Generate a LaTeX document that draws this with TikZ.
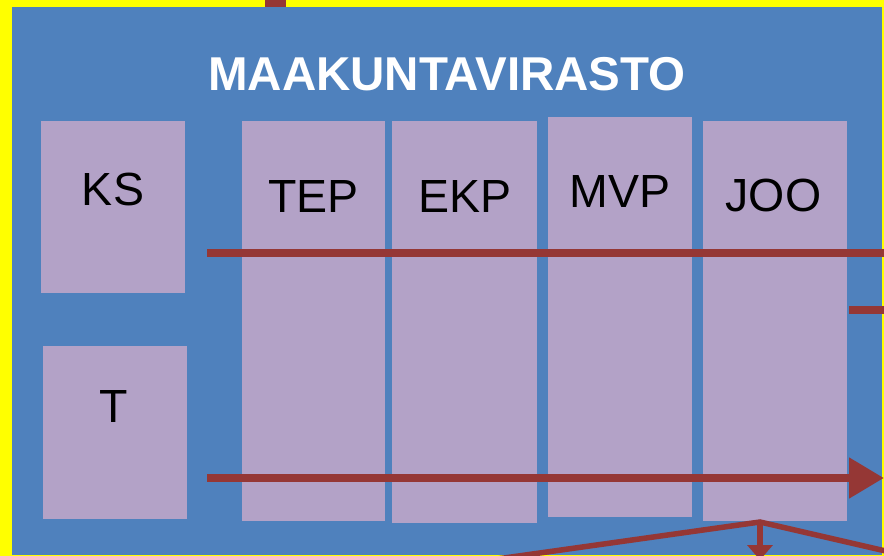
\documentclass[tikz,border=0pt]{standalone}
\usepackage{fontspec}
\setmainfont{Liberation Sans}
\usetikzlibrary{arrows.meta}
\definecolor{bgyellow}{HTML}{FFFF00}
\definecolor{panelblue}{HTML}{4F81BD}
\definecolor{boxlilac}{HTML}{B3A2C7}
\definecolor{darkred}{HTML}{953735}
\tikzset{
  unitbox/.style={fill=boxlilac, draw=none, anchor=north west, inner sep=0pt},
  boxlabel/.style={anchor=base, inner sep=0pt, font=\fontsize{46.5}{50}\selectfont, text=black},
  flowline/.style={draw=darkred, line width=8pt},
  thinflow/.style={draw=darkred, line width=5.5pt}
}
\begin{document}
\begin{tikzpicture}[x=1pt,y=-1pt]
\useasboundingbox (0,0) rectangle (884,556);
\clip (0,0) rectangle (884,556);
\fill[bgyellow] (0,0) rectangle (884,556);
\fill[panelblue] (12,7) rectangle (882,555);
\fill[darkred] (265,0) rectangle (286,7);
\node[anchor=base, inner sep=0pt, text=white, font=\fontsize{47.5}{52}\selectfont\bfseries] (title) at (447,91) {MAAKUNTAVIRASTO};
% boxes
\node[unitbox, minimum width=144pt, minimum height=172pt] (ks) at (41,121) {};
\node[unitbox, minimum width=144pt, minimum height=173pt] (t) at (43,346) {};
\node[unitbox, minimum width=143pt, minimum height=400pt] (tep) at (242,121) {};
\node[unitbox, minimum width=145pt, minimum height=402pt] (ekp) at (392,121) {};
\node[unitbox, minimum width=144pt, minimum height=400pt] (mvp) at (548,117) {};
\node[unitbox, minimum width=144pt, minimum height=400pt] (joo) at (703,121) {};
% labels
\node[boxlabel] (ksl) at (113,206) {KS};
\node[boxlabel] (tl) at (114,422) {T};
\node[boxlabel] (tepl) at (313.5,213) {TEP};
\node[boxlabel] (ekpl) at (465,213) {EKP};
\node[boxlabel] (mvpl) at (620,208) {MVP};
\node[boxlabel] (jool) at (773.5,212) {JOO};
% connectors
\coordinate (u1) at (207,253);
\coordinate (u2) at (884,253);
\coordinate (s1) at (849,310);
\coordinate (s2) at (890,310);
\coordinate (b1) at (207,478);
\coordinate (b2) at (884,478);
\coordinate (v) at (760,522);
\coordinate (vl) at (490,560);
\coordinate (vr) at (890,552);
\coordinate (vd) at (760,560);
\draw[flowline] (u1) -- (u2);
\draw[flowline] (s1) -- (s2);
\draw[flowline, -{Triangle[length=35pt,width=39pt]}] (b1) -- (b2);
\draw[thinflow] (vl) -- (v) -- (vr);
\draw[thinflow, -{Triangle[length=15pt,width=25pt]}] (v) -- (vd);
\end{tikzpicture}
\end{document}
